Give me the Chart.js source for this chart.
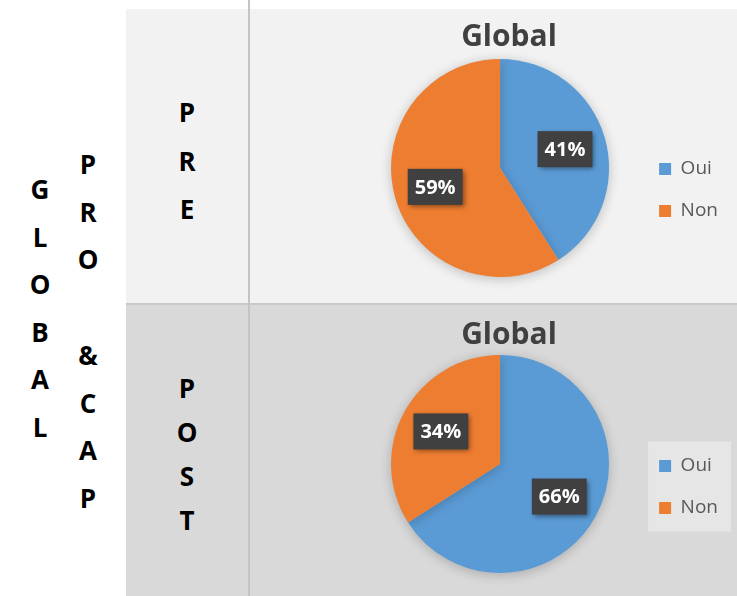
<!DOCTYPE html>
<html>
<head>
<meta charset="utf-8">
<script src="https://cdn.jsdelivr.net/npm/chart.js@4.4.1/dist/chart.umd.min.js"></script>
<style>
  html, body { margin: 0; padding: 0; background: #fff; }
  #page { position: relative; width: 737px; height: 596px; overflow: hidden; font-family: "Open Sans", sans-serif; }
  .cell { position: absolute; }
  .letters { position: absolute; font-weight: bold; font-size: 26px; color: #000; text-align: center; width: 40px; }
  .letters span { position: absolute; left: 0; width: 40px; transform: translateY(-50%); }
  canvas { position: absolute; }
</style>
</head>
<body>
<div id="page">
  <div class="cell" style="left:126px;top:9px;width:611px;height:295px;background:#f2f2f2"></div>
  <div class="cell" style="left:126px;top:305px;width:611px;height:291px;background:#d9d9d9"></div>
  <div class="cell" style="left:126px;top:303px;width:611px;height:2px;background:#c9c9c9"></div>
  <div class="cell" style="left:248px;top:0;width:2px;height:596px;background:#c4c4c4"></div>

  <div class="letters" id="colGlobal" style="left:20px"></div>
  <div class="letters" id="colProCap" style="left:68px"></div>
  <div class="letters" id="colPre" style="left:167px"></div>
  <div class="letters" id="colPost" style="left:167px"></div>

  <canvas id="preChart" style="left:250px;top:9px" width="487" height="295"></canvas>
  <canvas id="postChart" style="left:250px;top:305px" width="487" height="291"></canvas>
</div>
<script>
// ===== data =====
const categories = ['Oui', 'Non'];
const preValues  = [41, 59];
const postValues = [66, 34];
const chartTitle = 'Global';

// side labels, one letter per row (y = centre of letter)
const globalLetters = ['G', 'L', 'O', 'B', 'A', 'L'];
const proCapLetters = ['P', 'R', 'O', '', '&', 'C', 'A', 'P'];
const preLetters    = ['P', 'R', 'E'];
const postLetters   = ['P', 'O', 'S', 'T'];

const BLUE = '#5b9bd5';
const ORANGE = '#ed7d31';

function fillLetters(id, letters, y0, step) {
  const el = document.getElementById(id);
  letters.forEach((l, i) => {
    const s = document.createElement('span');
    s.textContent = l;
    s.style.top = (y0 + i * step) + 'px';
    el.appendChild(s);
  });
}
fillLetters('colGlobal', globalLetters, 189, 47.6);
fillLetters('colProCap', proCapLetters, 164, 47.7);
fillLetters('colPre', preLetters, 112, 48.5);
fillLetters('colPost', postLetters, 388, 44);

// dark value boxes on each slice
const valueLabels = {
  id: 'valueLabels',
  afterDatasetsDraw(chart) {
    const ctx = chart.ctx;
    const meta = chart.getDatasetMeta(0);
    const vals = chart.data.datasets[0].data;
    ctx.save();
    ctx.font = 'bold 20px "Open Sans"';
    ctx.textAlign = 'center';
    ctx.textBaseline = 'middle';
    meta.data.forEach((arc, i) => {
      const p = arc.getProps(['x', 'y', 'startAngle', 'endAngle', 'outerRadius'], true);
      const mid = (p.startAngle + p.endAngle) / 2;
      const r = p.outerRadius * 0.62;
      const cx = p.x + Math.cos(mid) * r;
      const cy = p.y + Math.sin(mid) * r;
      const txt = vals[i] + '%';
      const w = ctx.measureText(txt).width + 14;
      const h = 36;
      ctx.shadowColor = 'rgba(0,0,0,0.45)';
      ctx.shadowBlur = 5;
      ctx.shadowOffsetX = 2;
      ctx.shadowOffsetY = 2;
      ctx.fillStyle = '#404040';
      ctx.fillRect(cx - w / 2, cy - h / 2, w, h);
      ctx.shadowColor = 'transparent';
      ctx.fillStyle = '#ffffff';
      ctx.fillText(txt, cx, cy + 1);
    });
    ctx.restore();
  }
};

// soft shadow under the pie
const pieShadow = {
  id: 'pieShadow',
  beforeDatasetsDraw(chart) {
    const ctx = chart.ctx;
    ctx.save();
    ctx.shadowColor = 'rgba(0,0,0,0.22)';
    ctx.shadowBlur = 12;
    ctx.shadowOffsetY = 2;
  },
  afterDatasetsDraw(chart) { chart.ctx.restore(); }
};

// centre the title over the pie rather than over the whole canvas
const titleShift = {
  id: 'titleShift',
  afterLayout(chart, args, opts) {
    const t = chart.titleBlock;
    const w = t.right - t.left;
    t.left = opts.center - w / 2;
    t.right = opts.center + w / 2;
  }
};

// optional framed background behind legend
const legendFrame = {
  id: 'legendFrame',
  beforeDraw(chart, args, opts) {
    if (!opts.color) return;
    const boxes = chart.legend.legendHitBoxes;
    if (!boxes || !boxes.length) return;
    const l = Math.min(...boxes.map(b => b.left)) - 11;
    const t = Math.min(...boxes.map(b => b.top)) - 15;
    const r = 731 - 250;
    const b = Math.max(...boxes.map(b => b.top + b.height)) + 14;
    chart.ctx.save();
    chart.ctx.fillStyle = opts.color;
    chart.ctx.fillRect(l, t, r - l, b - t);
    chart.ctx.restore();
  }
};

function makePie(canvasId, values, titleTop, padBottom, legendTop, frameColor) {
  return new Chart(document.getElementById(canvasId), {
    type: 'pie',
    data: {
      labels: categories,
      datasets: [{
        data: values,
        backgroundColor: [BLUE, ORANGE],
        borderWidth: 0,
        radius: 109,
      }],
    },
    options: {
      responsive: false,
      animation: false,
      layout: { padding: { left: 114, right: 9, top: 0, bottom: padBottom } },
      plugins: {
        title: {
          display: true,
          text: chartTitle,
          color: '#404040',
          font: { family: 'Open Sans', size: 30, weight: 'bold', lineHeight: 1.2 },
          padding: { top: titleTop, bottom: 50 - titleTop - 36 },
        },
        legend: {
          position: 'right',
          title: { display: true, text: '', font: { size: 1, lineHeight: 1 }, padding: { top: legendTop, bottom: 0 } },
          labels: {
            color: '#595959',
            font: { family: 'Open Sans', size: 19 },
            boxWidth: 12,
            boxHeight: 12,
            padding: 23,
          },
        },
        titleShift: { center: 259 },
        legendFrame: { color: frameColor },
        tooltip: { enabled: false },
      },
    },
    plugins: [pieShadow, valueLabels, titleShift, legendFrame],
  });
}

makePie('preChart', preValues, 10, 27, 93, null);
makePie('postChart', postValues, 12, 23, 95, '#e6e6e6');
</script>
</body>
</html>
